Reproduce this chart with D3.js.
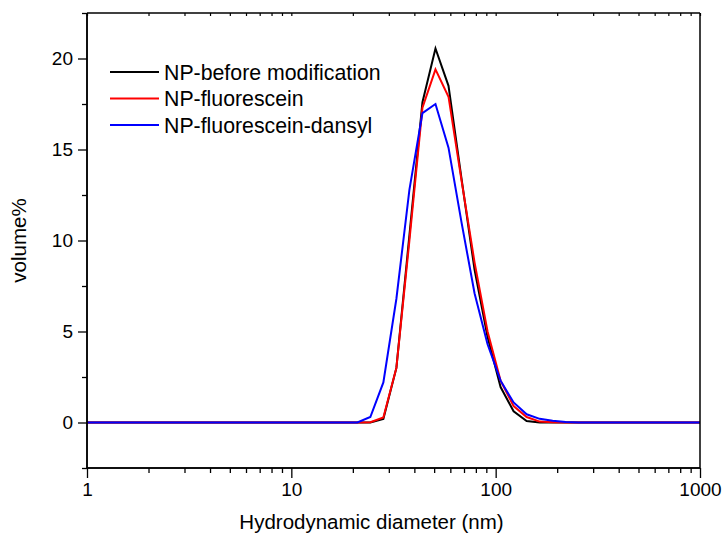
<!DOCTYPE html>
<html>
<head>
<meta charset="utf-8">
<script src="https://cdn.jsdelivr.net/npm/d3@7"></script>
<style>
  html, body { margin: 0; padding: 0; background: #fff; }
  svg text { font-family: "Liberation Sans", Arial, sans-serif; fill: #000; }
</style>
</head>
<body>
<svg id="chart" width="722" height="538"></svg>
<script>
// Size bins (nm) of the DLS volume distribution
const sizes = [0.9649, 1.117, 1.294, 1.499, 1.736, 2.010, 2.328, 2.696, 3.122, 3.615,
  4.187, 4.849, 5.615, 6.503, 7.531, 8.721, 10.10, 11.70, 13.54, 15.69,
  18.17, 21.04, 24.36, 28.21, 32.67, 37.84, 43.82, 50.75, 58.77, 68.06,
  78.82, 91.28, 105.7, 122.4, 141.8, 164.2, 190.1, 220.2, 255.0, 295.3,
  342.0, 396.1, 458.7, 531.2, 615.1, 712.4, 825.0, 955.4, 1106];

// Volume % per bin
const npBefore = [0, 0, 0, 0, 0, 0, 0, 0, 0, 0,
  0, 0, 0, 0, 0, 0, 0, 0, 0, 0,
  0, 0, 0, 0.2, 3.0, 10.3, 17.6, 20.55, 18.5, 13.4,
  8.4, 4.7, 1.95, 0.62, 0.08, 0, 0, 0, 0, 0,
  0, 0, 0, 0, 0, 0, 0, 0, 0];
const npFluorescein = [0, 0, 0, 0, 0, 0, 0, 0, 0, 0,
  0, 0, 0, 0, 0, 0, 0, 0, 0, 0,
  0, 0, 0.02, 0.28, 3.0, 10.0, 17.3, 19.4, 17.9, 13.3,
  8.8, 5.0, 2.3, 0.9, 0.3, 0.05, 0.01, 0, 0, 0,
  0, 0, 0, 0, 0, 0, 0, 0, 0];
const npDansyl = [0, 0, 0, 0, 0, 0, 0, 0, 0, 0,
  0, 0, 0, 0, 0, 0, 0, 0, 0, 0,
  0, 0, 0.3, 2.2, 6.8, 12.8, 17.0, 17.5, 15.1, 11.0,
  7.1, 4.3, 2.3, 1.1, 0.45, 0.2, 0.1, 0.03, 0, 0,
  0, 0, 0, 0, 0, 0, 0, 0, 0];

const seriesNames = ["NP-before modification", "NP-fluorescein", "NP-fluorescein-dansyl"];
const seriesColors = ["#000000", "#ff0000", "#0000ff"];
const seriesValues = [npBefore, npFluorescein, npDansyl];

const xTickValues = [1, 10, 100, 1000];
const yTickValues = [0, 5, 10, 15, 20];
const yMinorValues = [-2.5, 2.5, 7.5, 12.5, 17.5, 22.5];

const svg = d3.select("#chart");
const margin = { left: 87, right: 22, top: 13, bottom: 70 };
const W = 722, H = 538;
const x0 = margin.left, x1 = W - margin.right, y0 = margin.top, y1 = H - margin.bottom;

const x = d3.scaleLog().domain([1, 1000]).range([x0, x1]);
const y = d3.scaleLinear().domain([-2.5, 22.5]).range([y1, y0]);

// minor log ticks (2..9 per decade)
const xMinor = [];
for (let d = 1; d < 1000; d *= 10) for (let k = 2; k <= 9; k++) xMinor.push(d * k);

svg.append("defs").append("clipPath").attr("id", "plot-clip")
  .append("rect").attr("x", x0).attr("y", y0).attr("width", x1 - x0).attr("height", y1 - y0);

// data lines
const line = d3.line().x(d => x(d[0])).y(d => y(d[1]));
const plot = svg.append("g").attr("clip-path", "url(#plot-clip)");
seriesValues.forEach((vals, i) => {
  plot.append("path")
    .datum(sizes.map((s, j) => [s, vals[j]]))
    .attr("d", line)
    .attr("fill", "none")
    .attr("stroke", seriesColors[i])
    .attr("stroke-width", 2)
    .attr("stroke-linejoin", "miter");
});

// bottom axis
const bottomAxis = svg.append("g").attr("transform", `translate(0,${y1})`);
bottomAxis.call(d3.axisBottom(x).tickValues(xTickValues).tickFormat(d3.format("d")).tickSize(10).tickPadding(5));
bottomAxis.append("g").call(d3.axisBottom(x).tickValues(xMinor).tickFormat("").tickSize(5));
bottomAxis.selectAll("path.domain").attr("stroke-width", 1.5).attr("d", `M${x0},0H${x1}`);
bottomAxis.selectAll("line").attr("stroke-width", 1.3);
bottomAxis.selectAll("text").attr("font-size", 19);

// top border with short inward ticks
const topAxis = svg.append("g").attr("transform", `translate(0,${y0})`);
topAxis.call(d3.axisBottom(x).tickValues(xTickValues.concat(xMinor)).tickFormat("").tickSize(3));
topAxis.selectAll("path.domain").attr("stroke-width", 1.5).attr("d", `M${x0},0H${x1}`);
topAxis.selectAll("line").attr("stroke-width", 1.2);

// left axis
const leftAxis = svg.append("g").attr("transform", `translate(${x0},0)`);
leftAxis.call(d3.axisLeft(y).tickValues(yTickValues).tickSize(9).tickPadding(5));
leftAxis.append("g").call(d3.axisLeft(y).tickValues(yMinorValues).tickFormat("").tickSize(5));
leftAxis.selectAll("path.domain").attr("stroke-width", 1.5).attr("d", `M0,${y0}V${y1}`);
leftAxis.selectAll("line").attr("stroke-width", 1.3);
leftAxis.selectAll("text").attr("font-size", 19);

// right border
svg.append("line").attr("x1", x1).attr("x2", x1).attr("y1", y0).attr("y2", y1)
  .attr("stroke", "#000").attr("stroke-width", 1.5);

// axis titles
svg.append("text").attr("x", (x0 + x1) / 2 - 22).attr("y", 529)
  .attr("text-anchor", "middle").attr("font-size", 20.5).text("Hydrodynamic diameter (nm)");
svg.append("text").attr("transform", `translate(26,${(y0 + y1) / 2}) rotate(-90)`)
  .attr("text-anchor", "middle").attr("font-size", 20.5).text("volume%");

// legend
const legend = svg.append("g");
seriesNames.forEach((name, i) => {
  const ly = 72 + i * 26.5;
  legend.append("line").attr("x1", 110).attr("x2", 159).attr("y1", ly).attr("y2", ly)
    .attr("stroke", seriesColors[i]).attr("stroke-width", 2);
  legend.append("text").attr("x", 164).attr("y", ly + 7.5).attr("font-size", 21.3).text(name);
});
</script>
</body>
</html>
